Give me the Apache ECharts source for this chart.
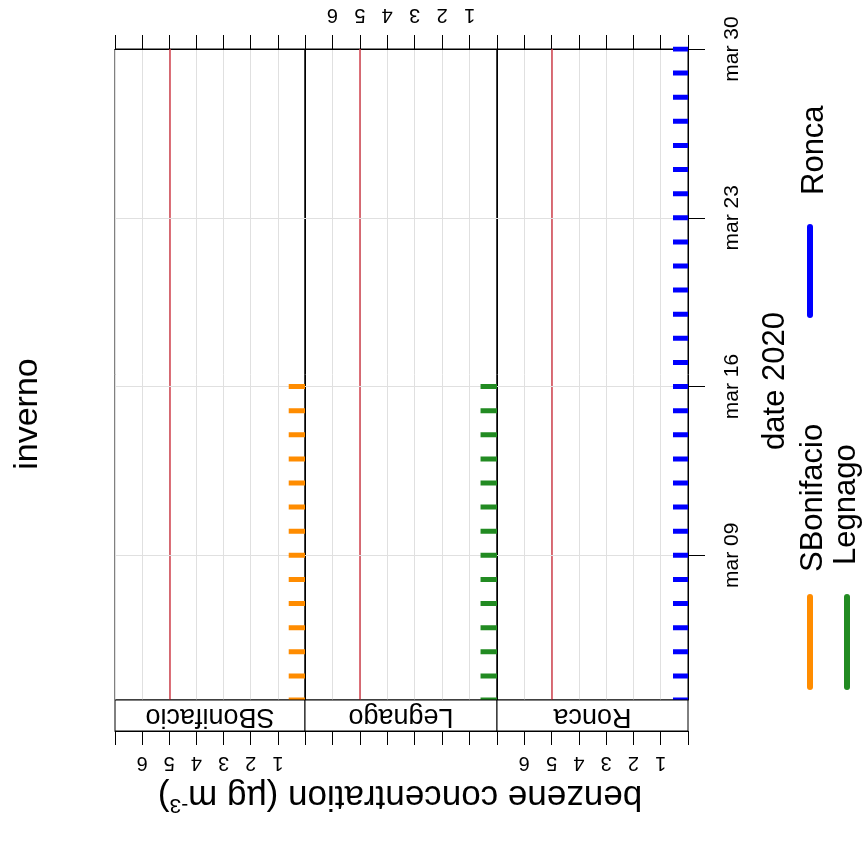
<!DOCTYPE html>
<html><head><meta charset="utf-8">
<script src="https://cdn.jsdelivr.net/npm/echarts@6/dist/echarts.min.js"></script>
<style>html,body{margin:0;padding:0;background:#fff}#c{width:865px;height:855px}</style>
</head><body><div id="c"></div>
<script>
const dates = ['2020-03-03','2020-03-04','2020-03-05','2020-03-06','2020-03-07','2020-03-08','2020-03-09',
  '2020-03-10','2020-03-11','2020-03-12','2020-03-13','2020-03-14','2020-03-15','2020-03-16',
  '2020-03-17','2020-03-18','2020-03-19','2020-03-20','2020-03-21','2020-03-22','2020-03-23',
  '2020-03-24','2020-03-25','2020-03-26','2020-03-27','2020-03-28','2020-03-29','2020-03-30'];
const sbonifacio = [0.6,0.6,0.6,0.6,0.6,0.6,0.6,0.6,0.6,0.6,0.6,0.6,0.6,0.6,
  null,null,null,null,null,null,null,null,null,null,null,null,null,null];
const legnago = [0.6,0.6,0.6,0.6,0.6,0.6,0.6,0.6,0.6,0.6,0.6,0.6,0.6,0.6,
  null,null,null,null,null,null,null,null,null,null,null,null,null,null];
const ronca = [0.55,0.55,0.55,0.55,0.55,0.55,0.55,0.55,0.55,0.55,0.55,0.55,0.55,0.55,
  0.55,0.55,0.55,0.55,0.55,0.55,0.55,0.55,0.55,0.55,0.55,0.55,0.55,0.55];
const stations = ['SBonifacio','Legnago','Ronca'];
const stationValues = [sbonifacio, legnago, ronca];
const stationColors = ['#FF8C00','#228B22','#0000FF'];
const dateTicks = ['2020-03-09','2020-03-16','2020-03-23','2020-03-30'];
const dateRange = ['2020-03-03','2020-03-30'];
const valueRange = [0, 7];
const valueTickLabels = [1,2,3,4,5,6];
const limitValue = 5;

// day of March as the numeric date coordinate
function toDay(s){return Number(s.split('-')[2]);}
const tickDays = dateTicks.map(toDay);
const FONT = '"Liberation Sans", Arial, sans-serif';

const panelLeft = [115, 305, 497];
const panelWidth = [190, 192, 191];
const plotTop = 49, plotHeight = 651;

const chart = echarts.init(document.getElementById('c'));
const grid = [], xAxis = [], yAxis = [], series = [];
for (let i = 0; i < 3; i++) {
  grid.push({left: panelLeft[i], top: plotTop, width: panelWidth[i], height: plotHeight,
    show: true, borderColor: '#000', borderWidth: 1, containLabel: false});
  const common = {type: 'value', gridIndex: i, min: valueRange[0], max: valueRange[1], interval: 1, inverse: true,
    axisLine: {show: true, lineStyle: {color: '#000', width: 1}},
    axisTick: {show: true, length: 14, lineStyle: {color: '#000', width: 1}}};
  xAxis.push(Object.assign({}, common, {position: 'bottom', offset: 31,
    splitLine: {show: true, lineStyle: {color: '#e0e0e0', width: 1}},
    axisLabel: {show: i !== 1, rotate: 180, margin: 22, fontSize: 20, color: '#000', fontFamily: FONT,
      formatter: v => valueTickLabels.indexOf(v) >= 0 ? String(v) : ''}}));
  xAxis.push(Object.assign({}, common, {position: 'top', offset: 0,
    splitLine: {show: false},
    axisLabel: {show: i === 1, rotate: 180, margin: 24, fontSize: 20, color: '#000', fontFamily: FONT,
      formatter: v => valueTickLabels.indexOf(v) >= 0 ? String(v) : ''}}));
  yAxis.push({type: 'value', gridIndex: i, min: toDay(dateRange[0]), max: toDay(dateRange[1]),
    position: i === 2 ? 'right' : 'left',
    axisLine: {show: true, lineStyle: {color: '#000'}},
    axisTick: {show: i !== 1, length: i === 2 ? 17 : 15, customValues: tickDays, lineStyle: {color: '#000'}},
    axisLabel: {show: i === 2, rotate: 90, margin: 34, fontSize: 21, color: '#000', fontFamily: FONT,
      customValues: tickDays,
      formatter: v => 'mar ' + String(v).padStart(2, '0')},
    splitLine: {show: false}
  });
  const vals = stationValues[i];
  const data = [];
  dates.forEach((d, k) => {
    if (vals[k] != null) { data.push([0, toDay(d)]); data.push([vals[k], toDay(d)]); data.push('-'); }
  });
  series.push({type: 'line', name: stations[i], xAxisIndex: 2 * i, yAxisIndex: i, data: data, z: 8,
    showSymbol: false, symbol: 'none', connectNulls: false, clip: true, silent: true,
    lineStyle: {color: stationColors[i], width: 5, cap: 'butt'},
    markLine: {silent: true, symbol: 'none', label: {show: false}, z: 1,
      data: [
        {xAxis: limitValue, lineStyle: {color: '#D0404C', width: 1.5, type: 'solid'}},
        ...tickDays.slice(0, 3).map(d => ({yAxis: d, lineStyle: {color: '#e0e0e0', width: 1, type: 'solid'}}))
      ]}});
}

const graphic = [];
for (let i = 0; i < 3; i++) {
  graphic.push({type: 'rect', shape: {x: panelLeft[i], y: 700, width: panelWidth[i], height: 31},
    style: {fill: '#fff', stroke: '#000', lineWidth: 1}, z: 10});
  graphic.push({type: 'text', x: panelLeft[i] + panelWidth[i] / 2, y: 716, rotation: Math.PI, z: 11,
    style: {text: stations[i], font: '27px ' + FONT, fill: '#000', align: 'center', verticalAlign: 'middle'}});
}
graphic.push({type: 'text', x: 28, y: 414, rotation: Math.PI / 2,
  style: {text: 'inverno', font: '34px ' + FONT, fill: '#000', align: 'center', verticalAlign: 'middle'}});
graphic.push({type: 'text', x: 400, y: 796, rotation: Math.PI,
  style: {text: '{a|benzene concentration (µg m}{s|-3}{a|)}', align: 'center', verticalAlign: 'middle',
    rich: {a: {font: '35px ' + FONT, fill: '#000'}, s: {font: '21px ' + FONT, fill: '#000', padding: [0, 0, 18, 0]}}}});
graphic.push({type: 'text', x: 775, y: 381, rotation: Math.PI / 2,
  style: {text: 'date 2020', font: '31px ' + FONT, fill: '#000', align: 'center', verticalAlign: 'middle'}});
const legendItems = [
  {name: stations[0], color: stationColors[0], x: 810, tx: 813, y0: 597, y1: 687, ty: 572},
  {name: stations[1], color: stationColors[1], x: 847, tx: 846, y0: 597, y1: 687, ty: 565},
  {name: stations[2], color: stationColors[2], x: 810, tx: 814, y0: 227, y1: 315, ty: 195}
];
legendItems.forEach(it => {
  graphic.push({type: 'line', shape: {x1: it.x, y1: it.y0, x2: it.x, y2: it.y1},
    style: {stroke: it.color, lineWidth: 6, lineCap: 'round'}});
  graphic.push({type: 'text', x: it.tx, y: it.ty, rotation: Math.PI / 2,
    style: {text: it.name, font: '31px ' + FONT, fill: '#000', align: 'left', verticalAlign: 'middle'}});
});

chart.setOption({animation: false, backgroundColor: '#fff', grid, xAxis, yAxis, series, graphic});
</script>
</body></html>
